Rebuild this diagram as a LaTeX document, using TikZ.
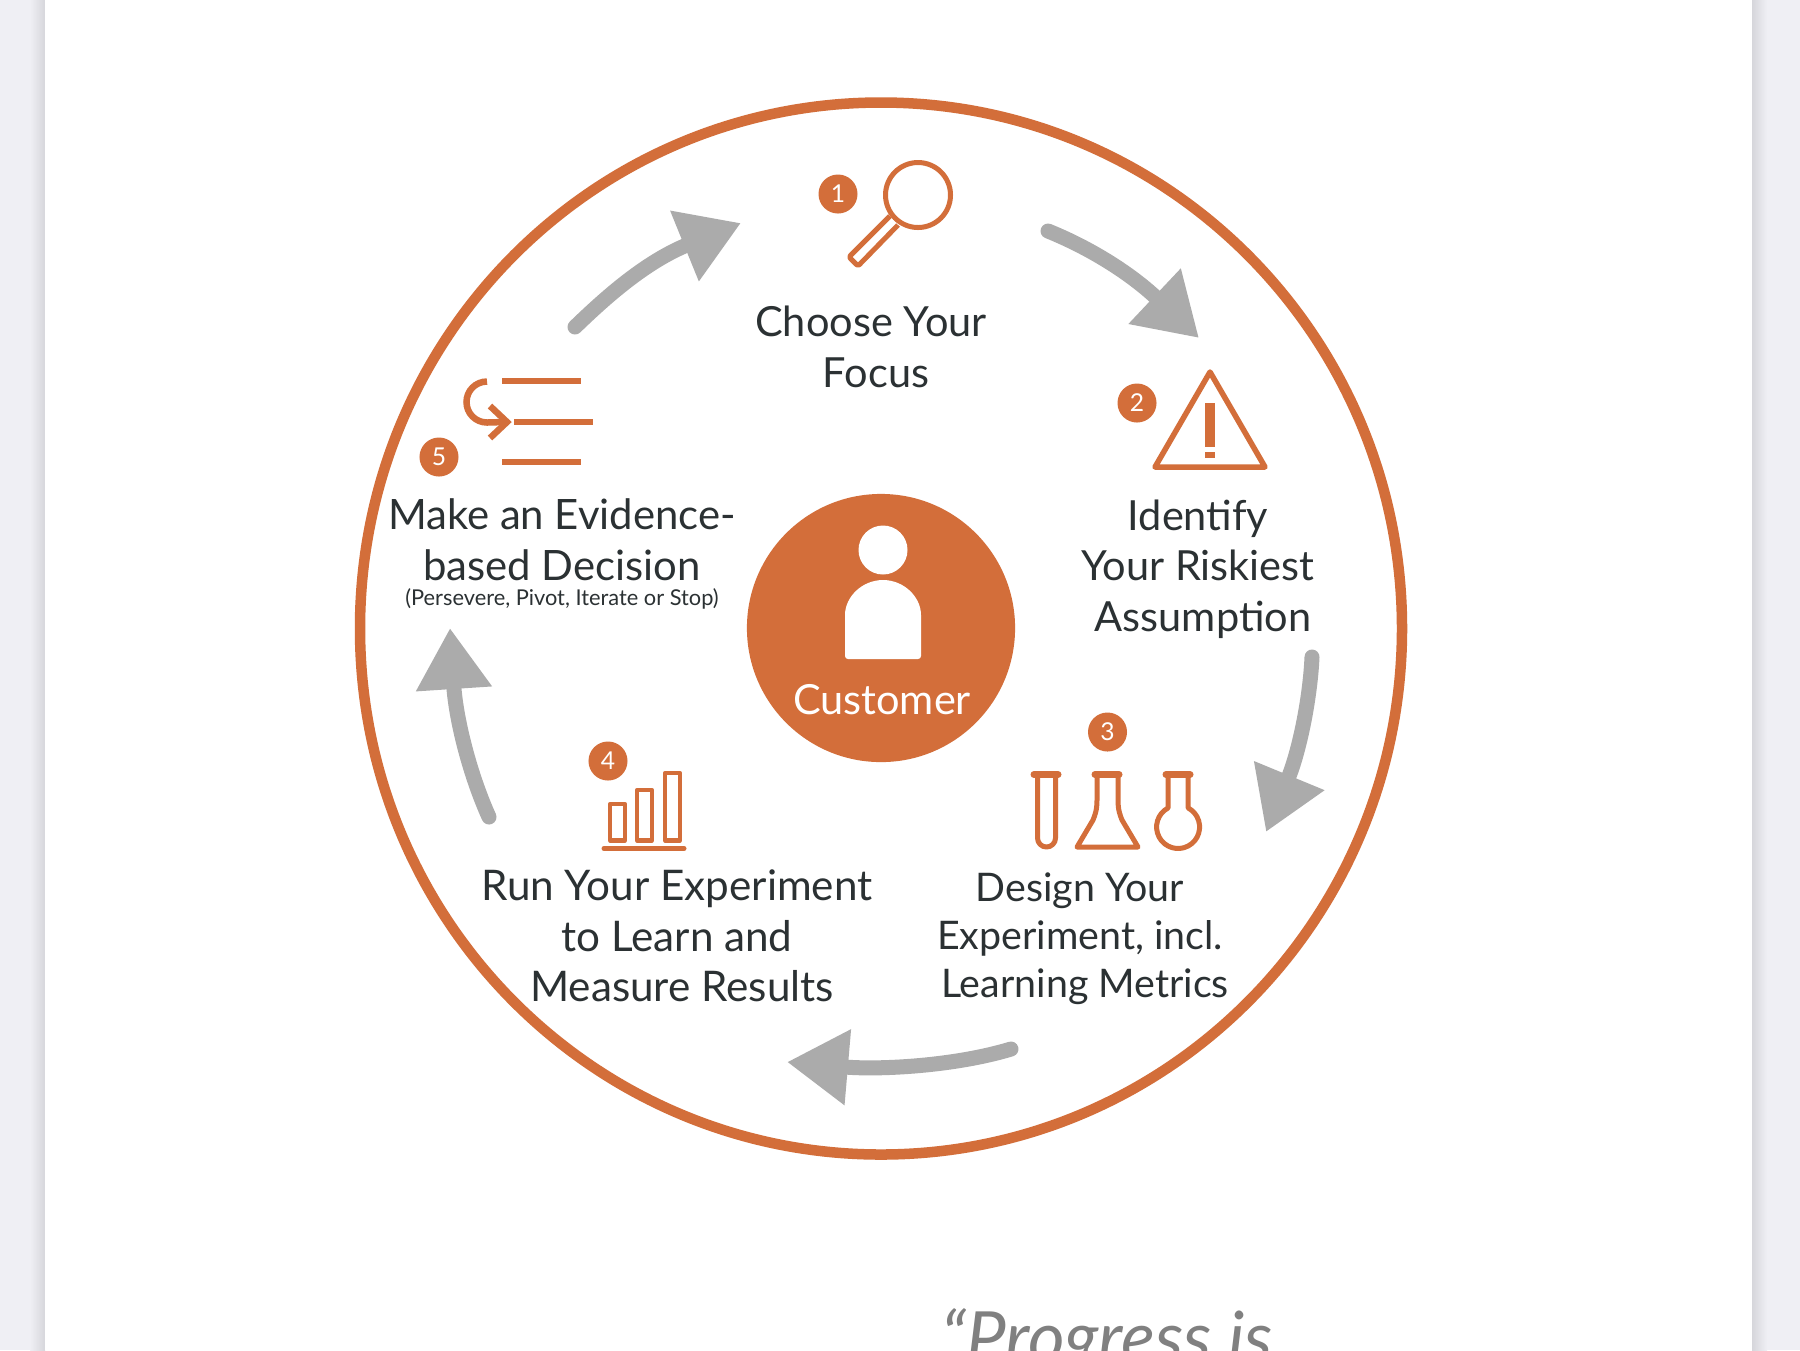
\documentclass[tikz,border=0pt]{standalone}
\usepackage{fontspec}
\setmainfont{Lato}
\usetikzlibrary{arrows.meta}
\definecolor{accent}{HTML}{D36E3A}
\definecolor{flowgray}{HTML}{ABABAB}
\definecolor{inkdark}{HTML}{2B3133}
\definecolor{deskgray}{HTML}{EFEFF4}
\definecolor{shadegray}{HTML}{D6D6DB}
\begin{document}
\begin{tikzpicture}[
        x=0.01cm, y=-0.01cm,
        % Accent ring and icon outlines
        ring/.style={draw=accent, line width=0.105cm},
        icon/.style={draw=accent, line width=0.05cm, line join=round},
        bar/.style={draw=accent, line width=0.065cm},
        % Numbered badges
        badge/.style={circle, fill=accent, text=white, minimum size=0.39cm, inner sep=0pt,
            font=\fontsize{7}{8}\selectfont},
        % Text blocks
        steptext/.style={text=inkdark, align=center, inner sep=0pt,
            font=\fontsize{11.8}{14.4}\selectfont},
        % Grey arrows between the steps
        flow/.style={draw=flowgray, line width=0.15cm, line cap=round,
            -{Triangle[width=0.72cm, length=0.61cm]}}
    ]

    \clip (0,0) rectangle (1800,1350);

    % Page and its shadow
    \fill[deskgray] (0,0) rectangle (1800,1350);
    \shade[left color=deskgray, right color=shadegray] (30,0) rectangle (45,1350);
    \shade[left color=shadegray, right color=deskgray] (1752,0) rectangle (1767,1350);
    \fill[white] (45,0) rectangle (1752,1350);

    % Outer ring
    \draw[ring] (881,628.5) ellipse [x radius=521, y radius=526];

    % Centre
    \node[circle, fill=accent, minimum size=2.68cm, inner sep=0pt] (hub) at (881,628) {};
    \fill[white] (883,550) circle (24.5);
    \fill[white, rounded corners=0.03cm] (845,659) -- (845,618) arc[start angle=180, end angle=360, radius=38] -- (921,659) -- cycle;
    \node[text=white, inner sep=0pt, font=\fontsize{11.8}{14}\selectfont] (hubLabel) at (882,700) {Customer};

    % Badges
    \node[badge] (badgeA) at (838,194) {1};
    \node[badge] (badgeB) at (1137,403) {2};
    \node[badge] (badgeC) at (1107.5,732) {3};
    \node[badge] (badgeD) at (608,761) {4};
    \node[badge] (badgeE) at (439,457) {5};

    % Step labels
    \node[steptext] (stepA) at (871,347) {Choose Your\\\hspace*{0.1cm}Focus};
    \node[steptext] (stepB) at (1198,569) {Identify\\Your Riskiest\\\hspace*{0.1cm}Assumption};
    \node[steptext, font=\fontsize{11.2}{13.6}\selectfont] (stepC) at (1080,939) {Design Your\\Experiment, incl.\\\hspace*{0.1cm}Learning Metrics};
    \node[steptext, font=\fontsize{12}{14.4}\selectfont] (stepD) at (677,936) {Run Your Experiment\\to Learn and\\\hspace*{0.1cm}Measure Results};
    \node[steptext, font=\fontsize{11.9}{14.4}\selectfont] (stepE) at (562,540) {Make an Evidence-\\based Decision};
    \node[text=inkdark, inner sep=0pt, font=\fontsize{6.2}{8}\selectfont] (stepEnote) at (562,599) {(Persevere, Pivot, Iterate or Stop)};

    % Magnifier
    \draw[icon] (918,195) circle (32.5);
    \draw[icon, rounded corners=0.02cm] (890,216) -- (849,257) -- (858,266) -- (898,225);

    % Warning triangle
    \draw[icon, line width=0.055cm] (1210,372) -- (1265,467) -- (1155,467) -- cycle;
    \fill[accent] (1205,403) rectangle (1215,447);
    \fill[accent] (1205,452) rectangle (1215,458);

    % Test tube, conical flask, round flask
    \draw[icon] (1037.5,776) -- (1037.5,838) arc[start angle=180, end angle=0, radius=9] -- (1055.5,776);
    \draw[icon] (1097,776) -- (1097,800) .. controls (1097,810) and (1095,815) .. (1093,820) -- (1077,847) -- (1138,847) -- (1122,820) .. controls (1120,815) and (1118,810) .. (1118,800) -- (1118,776);
    \draw[icon] (1168,776) -- (1168,808) arc[start angle=242, end angle=-62, radius=21.5] -- (1188,776);
    \draw[icon, line width=0.07cm, line cap=round] (1034,774.5) -- (1058,774.5);
    \draw[icon, line width=0.07cm, line cap=round] (1095,774.5) -- (1119,774.5);
    \draw[icon, line width=0.07cm, line cap=round] (1166,774.5) -- (1190,774.5);

    % Bars
    \foreach \barx/\bartop in {610/804, 637/790, 665/773}
        \draw[icon, line width=0.042cm] (\barx,\bartop) rectangle (\barx+15,840.5);
    \draw[icon, line cap=round] (604,848.5) -- (684,848.5);

    % Turn-back arrow and list lines
    \draw[bar] (487,381.5) arc[start angle=-90, end angle=-270, radius=20.5] -- (505,422);
    \draw[bar] (490,406) -- (507,422) -- (490,438);
    \draw[bar] (502,381) -- (581,381);
    \draw[bar] (514,422) -- (593,422);
    \draw[bar] (502,462) -- (581,462);

    % Ends of the grey arrows
    \coordinate (flowAstart) at (1048,231);
    \coordinate (flowAtip) at (1199,338);
    \coordinate (flowBstart) at (1312,657);
    \coordinate (flowBtip) at (1266,832);
    \coordinate (flowCstart) at (1011,1049);
    \coordinate (flowCtip) at (787,1062);
    \coordinate (flowDstart) at (489,817);
    \coordinate (flowDtip) at (450,628);
    \coordinate (flowEstart) at (575,327);
    \coordinate (flowEtip) at (741,223);

    \draw[flow] (flowAstart) .. controls (1090,248) and (1130,273) .. (flowAtip);
    \draw[flow] (flowBstart) .. controls (1310,700) and (1299,752) .. (flowBtip);
    \draw[flow] (flowCstart) .. controls (955,1066) and (880,1070) .. (flowCtip);
    \draw[flow] (flowDstart) .. controls (470,775) and (456,720) .. (flowDtip);
    \draw[flow] (flowEstart) .. controls (605,298) and (645,262) .. (flowEtip);

    % Quote running off the page
    \node[anchor=base west, inner sep=0pt, text=gray, font=\fontsize{20.1}{24}\selectfont\itshape] (quoteText) at (941,1362) {“Progress is};

\end{tikzpicture}
\end{document}
